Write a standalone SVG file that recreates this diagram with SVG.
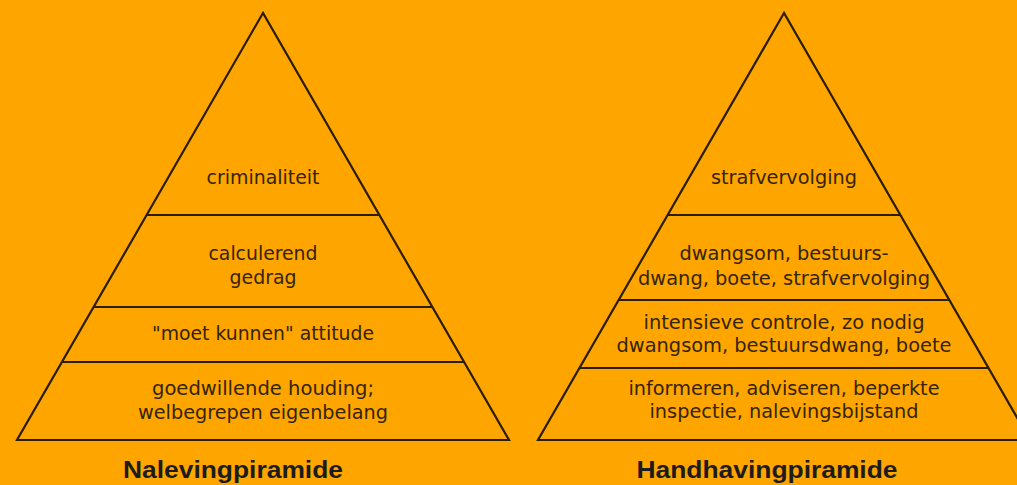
<svg xmlns="http://www.w3.org/2000/svg" width="1017" height="485" viewBox="0 0 1017 485">
<style>
.bg{fill:#FFA500}
.tri{fill:#FFA500;stroke:#2b1d00;stroke-width:2.2;stroke-linejoin:miter}
.sep{stroke:#2b1d00;stroke-width:2.2}
.lbl{font-family:"DejaVu Sans","Liberation Sans",sans-serif;font-size:19px;fill:#342400;text-anchor:middle}
.ttl{font-family:"Liberation Sans",Arial,sans-serif;font-size:23.5px;font-weight:bold;fill:#1c1c1c;text-anchor:middle}
</style>
<rect class="bg" x="0" y="0" width="1017" height="485"/>
<g id="naleving">
<polygon class="tri" points="263,13 17,440 509,440"/>
<text class="lbl" x="263" y="184" textLength="113" lengthAdjust="spacingAndGlyphs">criminaliteit</text>
<text class="lbl" x="263" y="260" textLength="109" lengthAdjust="spacingAndGlyphs">calculerend</text>
<text class="lbl" x="263" y="284" textLength="67" lengthAdjust="spacingAndGlyphs">gedrag</text>
<text class="lbl" x="263" y="340" textLength="222" lengthAdjust="spacingAndGlyphs">"moet kunnen" attitude</text>
<text class="lbl" x="263" y="395" textLength="222" lengthAdjust="spacingAndGlyphs">goedwillende houding;</text>
<text class="lbl" x="263" y="419" textLength="250" lengthAdjust="spacingAndGlyphs">welbegrepen eigenbelang</text>
<text class="ttl" x="233" y="477.5" textLength="220" lengthAdjust="spacingAndGlyphs">Nalevingpiramide</text>
</g>
<g id="handhaving">
<polygon class="tri" points="784,13 538,440 1030,440"/>
<text class="lbl" x="784" y="184" textLength="146" lengthAdjust="spacingAndGlyphs">strafvervolging</text>
<text class="lbl" x="784" y="260" textLength="209" lengthAdjust="spacingAndGlyphs">dwangsom, bestuurs-</text>
<text class="lbl" x="784" y="285" textLength="292" lengthAdjust="spacingAndGlyphs">dwang, boete, strafvervolging</text>
<text class="lbl" x="784" y="329" textLength="281" lengthAdjust="spacingAndGlyphs">intensieve controle, zo nodig</text>
<text class="lbl" x="784" y="352" textLength="335" lengthAdjust="spacingAndGlyphs">dwangsom, bestuursdwang, boete</text>
<text class="lbl" x="784" y="395" textLength="311" lengthAdjust="spacingAndGlyphs">informeren, adviseren, beperkte</text>
<text class="lbl" x="784" y="418" textLength="269" lengthAdjust="spacingAndGlyphs">inspectie, nalevingsbijstand</text>
<text class="ttl" x="767" y="477.5" textLength="261" lengthAdjust="spacingAndGlyphs">Handhavingpiramide</text>
</g>
<g id="connectors">
<line class="sep" x1="147.1" y1="215" x2="378.9" y2="215"/>
<line class="sep" x1="94.1" y1="307" x2="431.9" y2="307"/>
<line class="sep" x1="62.4" y1="362" x2="463.6" y2="362"/>
<line class="sep" x1="668.1" y1="215" x2="899.9" y2="215"/>
<line class="sep" x1="619.1" y1="300" x2="948.9" y2="300"/>
<line class="sep" x1="579.5" y1="368" x2="988.5" y2="368"/>
</g>
</svg>
